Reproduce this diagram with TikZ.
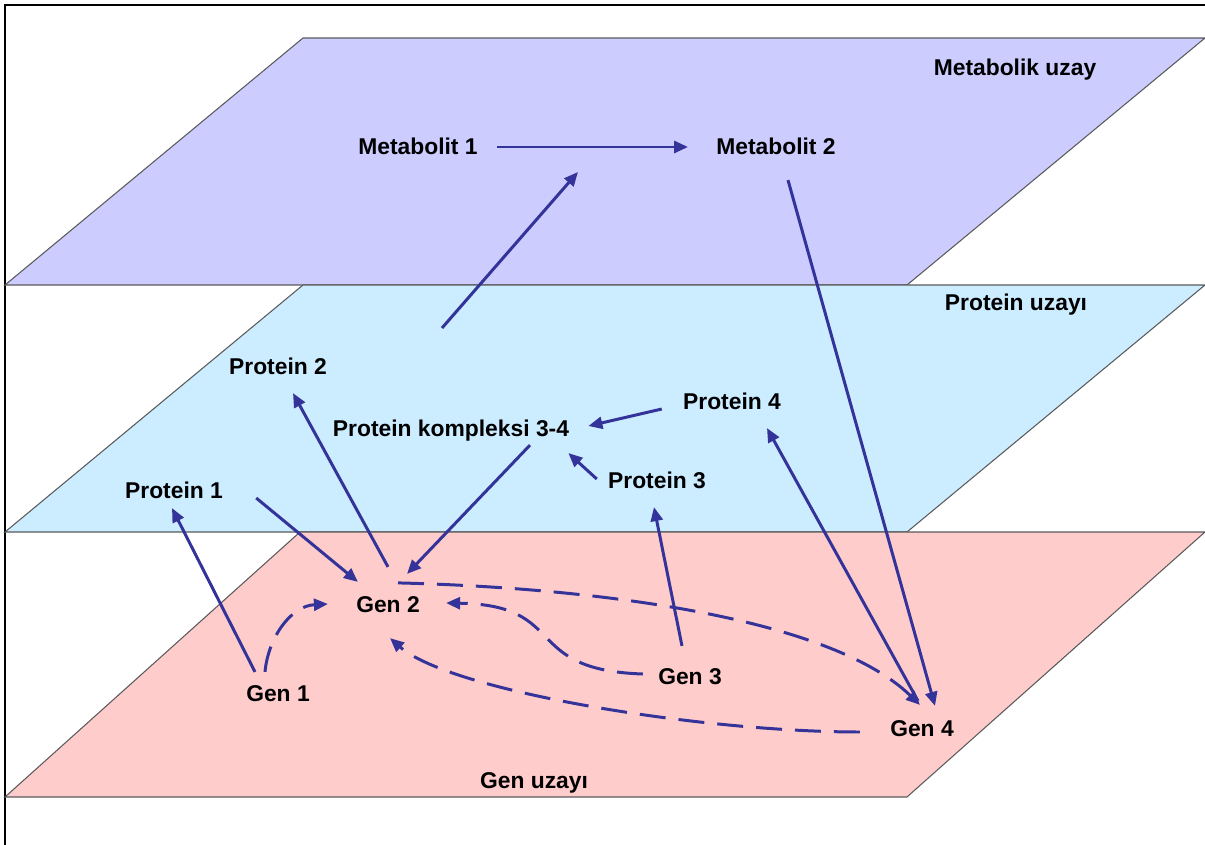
\documentclass[tikz,border=0pt]{standalone}
\usepackage{fontspec}
\setmainfont{Liberation Sans}
\usetikzlibrary{arrows.meta,calc}
\definecolor{metabfill}{RGB}{204,204,255}
\definecolor{protfill}{RGB}{204,236,255}
\definecolor{genfill}{RGB}{255,204,204}
\definecolor{linkblue}{RGB}{51,51,153}
\definecolor{planeedge}{RGB}{90,90,90}
\tikzset{
  lbl/.style={font=\fontsize{13}{15}\selectfont\bfseries,inner sep=0.04cm,text height=0.34cm,text depth=0.01cm},
  plane/.style={draw=planeedge,line width=0.6pt},
  link/.style={->,draw=linkblue,line width=1.7pt},
  dlink/.style={link,dash pattern=on 0.52cm off 0.26cm},
}

\begin{document}
\begin{tikzpicture}[x=0.02cm,y=-0.02cm,>={Triangle[length=0.28cm,width=0.24cm]}]
  \useasboundingbox (0,0) rectangle (1205,845);
  \draw[line width=1.2pt] (5,845) -- (5,5) -- (1205,5);
  % the three spaces
  \draw[plane,fill=metabfill] (5,285) -- (907,285) -- (1205,38) -- (303,38) -- cycle;
  \draw[plane,fill=protfill] (5,532) -- (907,532) -- (1205,285) -- (303,285) -- cycle;
  \draw[plane,fill=genfill] (5,797) -- (907,797) -- (1205,532) -- (300,532) -- cycle;
  \node[lbl] (metablbl) at (1015,67) {Metabolik uzay};
  \node[lbl] (protlbl) at (1016,302) {Protein uzayı};
  \node[lbl] (genlbl) at (534,780) {Gen uzayı};
  % metabolites
  \node[lbl] (m1) at (418,146) {Metabolit 1};
  \node[lbl] (m2) at (776,146) {Metabolit 2};
  % proteins
  \node[lbl] (p2) at (278,366) {Protein 2};
  \node[lbl] (pk) at (451,428) {Protein kompleksi 3-4};
  \node[lbl] (p4) at (732,401) {Protein 4};
  \node[lbl] (p1) at (174,490) {Protein 1};
  \node[lbl] (p3) at (657,480) {Protein 3};
  % genes
  \node[lbl] (g2) at (388,604) {Gen 2};
  \node[lbl] (g1) at (278,693) {Gen 1};
  \node[lbl] (g3) at (690,676) {Gen 3};
  \node[lbl] (g4) at (922,728) {Gen 4};
  \coordinate (cplx) at (442,328);
  \coordinate (mtip) at (578,172);
  % solid links
  \draw[link] ($(m1.east)+(17,1)$) -- ($(m2.west)+(-26,1)$);
  \draw[link] (cplx) -- (mtip);
  \draw[link] ($(m2.south)+(12,23)$) -- ($(g4.north)+(13,-11)$);
  \draw[link] ($(g4.north)+(-4,-16)$) -- ($(p4.south)+(35,16)$);
  \draw[link] ($(g1.north)+(-23,-10)$) -- ($(p1.south)+(-2,7)$);
  \draw[link] ($(p1.east)+(31,8)$) -- ($(g2.north west)+(4,-11)$);
  \draw[link] ($(g2.north)+(0,-26)$) -- ($(p2.south)+(15,16)$);
  \draw[link] ($(pk.south)+(79,6)$) -- ($(g2.north)+(19,-19)$);
  \draw[link] ($(p4.west)+(-19,8)$) -- ($(pk.east)+(17,-2)$);
  \draw[link] ($(p3.west)+(-9,-1)$) -- ($(pk.south east)+(-3,14)$);
  \draw[link] ($(g3.north)+(-8,-19)$) -- ($(p3.south)+(-3,16)$);
  % dashed links between genes
  \draw[dlink] ($(g1.north)+(-13,-10)$) .. controls +(3,-33) and +(-38,2) .. ($(g2.west)+(-26,0)$);
  \draw[dlink] ($(g2.north)+(10,-10)$) .. controls +(200,5) and +(-90,-87) .. ($(g4.north)+(-2,-12)$);
  \draw[dlink] ($(g3.west)+(-13,-2)$) .. controls +(-123,-4) and +(124,2) .. ($(g2.east)+(24,-1)$);
  \draw[dlink] ($(g4.west)+(-28,4)$) .. controls +(-160,0) and +(60,53) .. ($(g2.south)+(2,23)$);
\end{tikzpicture}
\end{document}
